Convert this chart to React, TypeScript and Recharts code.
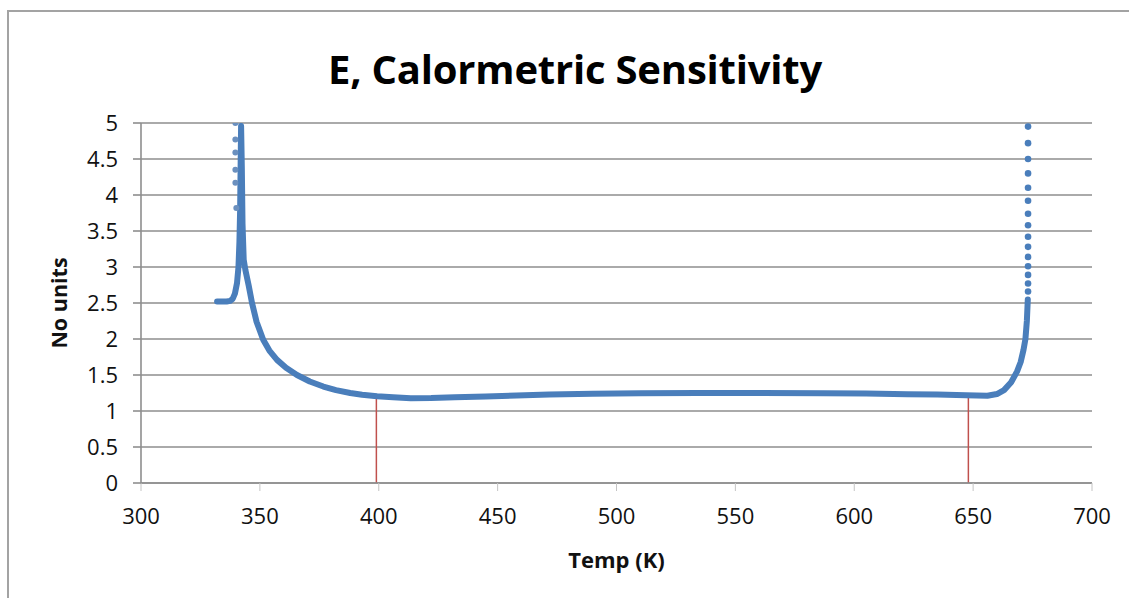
import {
  ComposedChart,
  Line,
  XAxis,
  YAxis,
  CartesianGrid,
  ReferenceLine,
  Label,
} from "recharts";

// main trace (temperature K, sensitivity)
const curveTemp = [
  332.0, 334.0, 336.0, 337.6, 338.6, 339.5, 340.4, 341.0, 341.4, 341.7, 341.9, 342.1,
  342.4, 342.7, 343.2, 343.9, 345.3, 346.7, 348.6, 351.4, 354.0, 357.2, 361.0, 365.6,
  371.0, 376.7, 382.0, 388.0, 393.0, 399.3, 406.0, 413.5, 422.0, 432.0, 445.0, 458.0,
  471.7, 490.0, 510.0, 533.9, 560.0, 587.0, 605.0, 622.3, 635.0, 647.0, 656.0, 660.0,
  663.0, 666.0, 668.5, 670.0, 671.2, 672.0, 672.6, 673.0,
];
const curveValue = [
  2.52, 2.52, 2.52, 2.53, 2.56, 2.63, 2.78, 3.0, 3.35, 3.8, 4.4, 4.96,
  4.4, 3.6, 3.1, 2.96, 2.74, 2.5, 2.24, 1.99, 1.84, 1.71, 1.6, 1.5,
  1.41, 1.34, 1.29, 1.25, 1.225, 1.205, 1.19, 1.178, 1.18, 1.19, 1.2, 1.215,
  1.23, 1.24, 1.245, 1.25, 1.25, 1.248, 1.242, 1.234, 1.228, 1.22, 1.212, 1.235,
  1.29, 1.4, 1.55, 1.68, 1.85, 2.0, 2.25, 2.55,
];

// loose dots on the left spike
const leftDotTemp = [339.7, 339.7, 339.7, 339.7, 339.7, 340.1];
const leftDotValue = [5.0, 4.77, 4.59, 4.35, 4.17, 3.82];

// loose dots on the right spike
const rightDotTemp = [
  673.1, 673.1, 673.1, 673.1, 673.1, 673.1, 673.1, 673.1, 673.1, 673.1, 673.1, 673.1,
  673.1, 673.1, 673.1,
];
const rightDotValue = [
  4.95, 4.72, 4.5, 4.3, 4.1, 3.92, 3.74, 3.58, 3.42, 3.28, 3.14, 3.01, 2.89, 2.77, 2.66,
];

const xTicks = [300, 350, 400, 450, 500, 550, 600, 650, 700];
const yTicks = [0, 0.5, 1, 1.5, 2, 2.5, 3, 3.5, 4, 4.5, 5];

// red markers: [temp, top value]
const markerTemp = [399, 648];
const markerTop = [1.2, 1.22];

const curve = curveTemp.map((t, i) => ({ t, v: curveValue[i] }));
const leftDots = leftDotTemp.map((t, i) => ({ t, v: leftDotValue[i] }));
const rightDots = rightDotTemp.map((t, i) => ({ t, v: rightDotValue[i] }));

const BLUE = "#4a7ebb";
const GRID = "#8e8e8e";
const FONT = "'Open Sans', sans-serif";

const YAxisTitle = (props: any) => {
  const vb = props.viewBox;
  const x = vb.x + 58;
  const y = vb.y + vb.height / 2;
  return (
    <text
      x={x}
      y={y}
      transform={`rotate(-90 ${x} ${y})`}
      textAnchor="middle"
      dominantBaseline="central"
      fontFamily={FONT}
      fontWeight={700}
      fontSize={21.5}
      fill="#111"
    >
      No units
    </text>
  );
};

export default function App() {
  return (
    <div
      style={{
        position: "fixed",
        left: 0,
        top: 0,
        width: 1129,
        height: 598,
        overflow: "hidden",
        background: "#fff",
      }}
    >
      <div
        style={{
          position: "absolute",
          left: 7,
          top: 10,
          width: 1300,
          height: 800,
          border: "2px solid #a3a3a3",
        }}
      />
      <div
        style={{
          position: "absolute",
          left: 75,
          width: 1000,
          top: 49,
          lineHeight: "40px",
          fontSize: 40,
          fontWeight: 700,
          fontFamily: FONT,
          textAlign: "center",
          color: "#000",
          letterSpacing: -0.2,
        }}
      >
        E, Calormetric Sensitivity
      </div>
      <div style={{ position: "absolute", left: 0, top: 0 }}>
        <ComposedChart
          width={1129}
          height={598}
          margin={{ top: 123, right: 37, bottom: 0, left: 0 }}
        >
          <CartesianGrid vertical={false} stroke={GRID} strokeWidth={1.6} />
          <XAxis
            type="number"
            dataKey="t"
            domain={[300, 700]}
            ticks={xTicks}
            height={115}
            tickSize={8}
            tickMargin={17}
            tick={{ fill: "#111", fontSize: 22, fontFamily: FONT }}
            axisLine={{ stroke: GRID, strokeWidth: 1.6 }}
            tickLine={{ stroke: "#c4c4c4" }}
            allowDataOverflow
          >
            <Label
              value="Temp (K)"
              position="insideBottom"
              offset={30}
              style={{ fontFamily: FONT, fontWeight: 700, fontSize: 22, fill: "#111" }}
            />
          </XAxis>
          <YAxis
            type="number"
            dataKey="v"
            domain={[0, 5]}
            ticks={yTicks}
            width={141}
            tickSize={8}
            tickMargin={15}
            tick={{ fill: "#111", fontSize: 22, fontFamily: FONT }}
            axisLine={{ stroke: GRID, strokeWidth: 1.6 }}
            tickLine={{ stroke: GRID, strokeWidth: 1.6 }}
            allowDataOverflow
          >
            <Label content={YAxisTitle} />
          </YAxis>
          {markerTemp.map((t, i) => (
            <ReferenceLine
              key={t}
              segment={[
                { x: t, y: 0 },
                { x: t, y: markerTop[i] },
              ]}
              stroke="#c0504d"
              strokeWidth={1.5}
            />
          ))}
          <Line
            data={curve}
            dataKey="v"
            type="linear"
            stroke={BLUE}
            strokeWidth={6}
            strokeLinejoin="round"
            strokeLinecap="round"
            dot={false}
            activeDot={false}
            isAnimationActive={false}
          />
          <Line
            data={leftDots}
            dataKey="v"
            stroke="none"
            dot={{ r: 3, fill: "#6b90bf", stroke: "none" }}
            activeDot={false}
            isAnimationActive={false}
          />
          <Line
            data={rightDots}
            dataKey="v"
            stroke="none"
            dot={{ r: 3.3, fill: BLUE, stroke: "none" }}
            activeDot={false}
            isAnimationActive={false}
          />
        </ComposedChart>
      </div>
    </div>
  );
}
